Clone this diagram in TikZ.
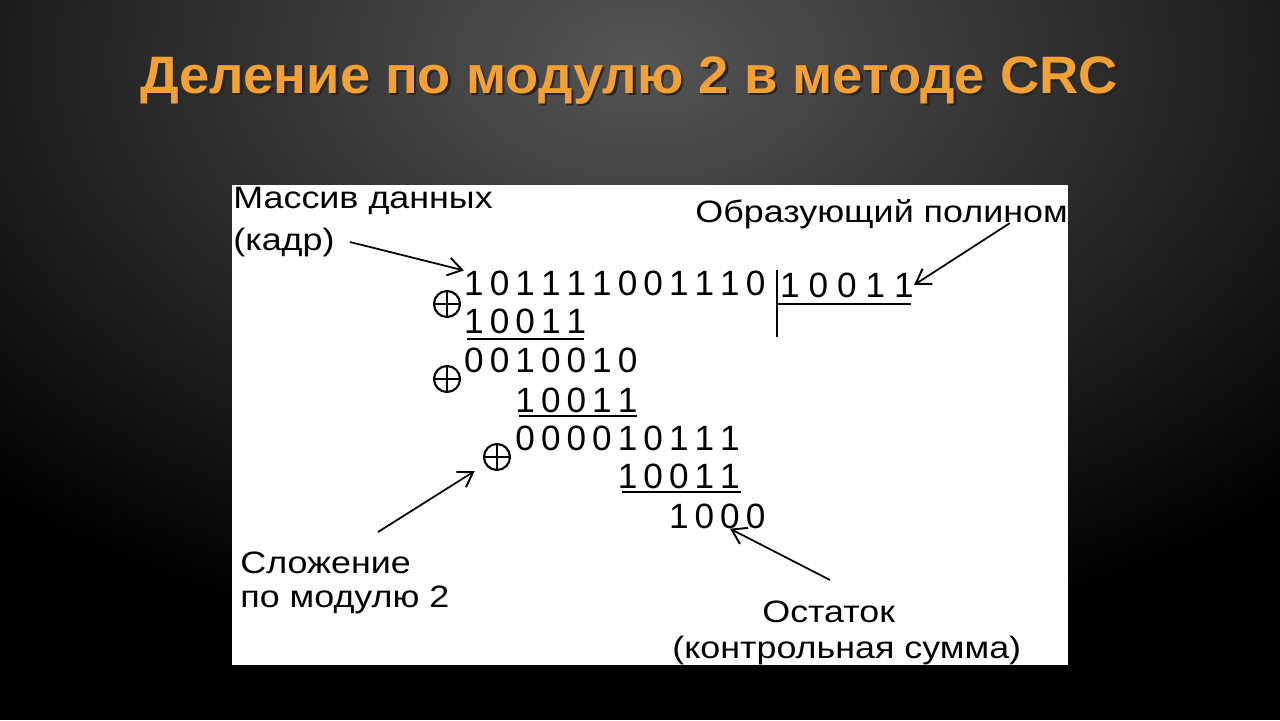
\documentclass[tikz,border=0pt]{standalone}
\usepackage{fontspec}
\setmainfont{Liberation Sans}
\newfontfamily\lblfont[FakeStretch=1.16]{Liberation Sans}
\newfontfamily\titlefont[FakeStretch=1.03]{Liberation Sans}
\usetikzlibrary{arrows.meta,calc,positioning}

\definecolor{titleorange}{HTML}{F3A034}
\definecolor{bggray}{HTML}{555555}

\tikzset{
  digit/.style={anchor=base, inner sep=0pt, font=\fontsize{20}{24}\selectfont},
  lbl/.style={anchor=base west, inner sep=0pt, font=\lblfont\fontsize{17.6}{22}\selectfont},
  rule/.style={line width=1.1pt},
  xorsign/.style={circle, draw, line width=1.2pt, minimum size=0.52cm, inner sep=0pt,
    path picture={\draw[line width=1.2pt] (path picture bounding box.north) -- (path picture bounding box.south)
      (path picture bounding box.west) -- (path picture bounding box.east);}},
  pointer/.style={line width=1pt, -{Straight Barb[length=2.8mm, width=3.6mm, line width=1.1pt]}},
}

\begin{document}
\begin{tikzpicture}[x=0.02cm, y=-0.02cm]

  % background
  \fill[black] (0,0) rectangle (1280,720);
  \begin{scope}
    \clip (0,0) rectangle (1280,720);
    \shade[inner color=bggray, outer color=black] (640,60) ellipse (19cm and 12cm);
  \end{scope}
  \useasboundingbox (0,0) rectangle (1280,720);

  % title
  \node[anchor=base west, inner sep=0pt, black!85, font=\titlefont\fontsize{30}{36}\selectfont\bfseries] at (142.5,95.5) {Деление по модулю 2 в методе CRC};
  \node[anchor=base west, inner sep=0pt, titleorange, font=\titlefont\fontsize{30}{36}\selectfont\bfseries] (title) at (140,93) {Деление по модулю 2 в методе CRC};

  % white sheet
  \fill[white] (232,185) rectangle (1068,665);

  \begin{scope}
    \clip (232,185) rectangle (1068,665);

    % dividend and steps
    \foreach \d [count=\i] in {1,0,1,1,1,1,0,0,1,1,1,0}
      \node[digit] (a\i) at ({474+(\i-1)*25.6},295) {\d};
    \foreach \d [count=\i] in {1,0,0,1,1}
      \node[digit] (b\i) at ({474+(\i-1)*25.6},333) {\d};
    \foreach \d [count=\i] in {0,0,1,0,0,1,0}
      \node[digit] (c\i) at ({474+(\i-1)*25.6},372) {\d};
    \foreach \d [count=\i] in {1,0,0,1,1}
      \node[digit] (d\i) at ({474+(\i+1)*25.6},412) {\d};
    \foreach \d [count=\i] in {0,0,0,0,1,0,1,1,1}
      \node[digit] (e\i) at ({474+(\i+1)*25.6},450) {\d};
    \foreach \d [count=\i] in {1,0,0,1,1}
      \node[digit] (f\i) at ({474+(\i+5)*25.6},488) {\d};
    \foreach \d [count=\i] in {1,0,0,0}
      \node[digit] (g\i) at ({474+(\i+7)*25.6},528) {\d};

    % divisor
    \foreach \d [count=\i] in {1,0,0,1,1}
      \node[digit] (p\i) at ({790+(\i-1)*28.5},297) {\d};

    % rules
    \draw[rule] ($(b1.base)+(-7,6)$) -- ($(b5.base)+(8,6)$);
    \draw[rule] ($(d1.base)+(-6,4)$) -- ($(d5.base)+(9,4)$);
    \draw[rule] ($(f1.base)+(-6,4)$) -- ($(f5.base)+(11,4)$);
    \draw[rule] ($(p1.base)+(-13,-27)$) -- ($(p1.base)+(-13,40)$);
    \draw[rule] ($(p1.base)+(-13,7)$) -- ($(p5.base)+(7,7)$);

    % xor signs
    \node[xorsign] (s1) at (447,304) {};
    \node[xorsign] (s2) at (447,379) {};
    \node[xorsign] (s3) at (497,457) {};

    % labels
    \node[lbl] (mas1) at (233,208) {Массив данных};
    \node[lbl] (mas2) at (233,250) {(кадр)};
    \node[lbl] (poly) at (695,222) {Образующий полином};
    \node[lbl] (sum1) at (240,573) {Сложение};
    \node[lbl] (sum2) at (240,607) {по модулю 2};
    \node[lbl] (rem1) at (762,622) {Остаток};
    \node[lbl] (rem2) at (672,658) {(контрольная сумма)};

    % pointers
    \coordinate (polytail) at (1010,223);
    \coordinate (sumtail) at (378,532);
    \coordinate (remtail) at (830,580);
    \draw[pointer] ($(mas2.east)+(15,0)$) -- (a1.north west);
    \draw[pointer] (polytail) -- (p5.east);
    \draw[pointer, shorten >=0.25cm] (sumtail) -- (s3);
    \draw[pointer] (remtail) -- (g3.south);
  \end{scope}

\end{tikzpicture}
\end{document}
